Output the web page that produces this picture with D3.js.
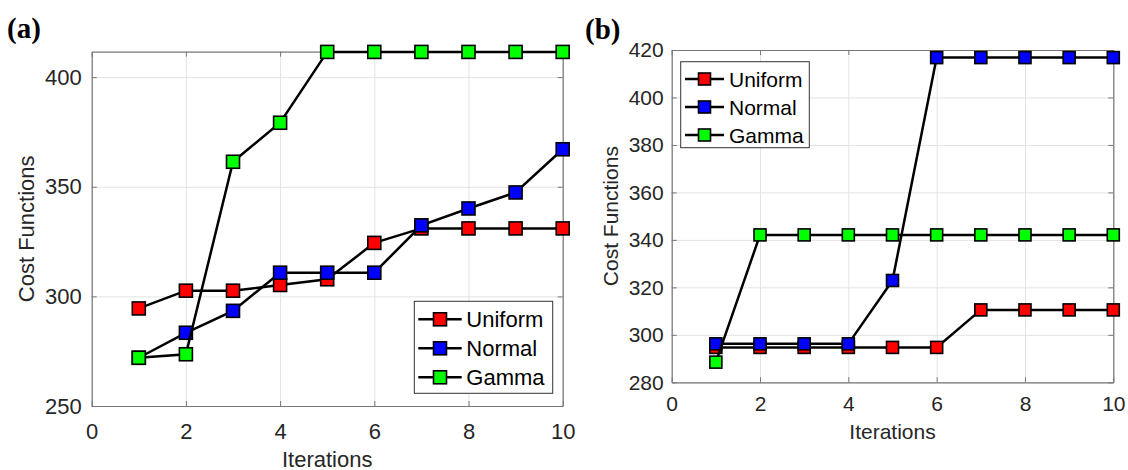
<!DOCTYPE html>
<html>
<head>
<meta charset="utf-8">
<script src="https://cdn.jsdelivr.net/npm/d3@7"></script>
<style>
  body { margin: 0; background: #fff; }
  svg { display: block; font-family: "Liberation Sans", Arial, sans-serif; }
</style>
</head>
<body>
<svg id="chart" width="1128" height="470"></svg>
<script>
const iterations = [1, 2, 3, 4, 5, 6, 7, 8, 9, 10];
const seriesNames = ["Uniform", "Normal", "Gamma"];
const seriesColors = ["#ff0000", "#0000ff", "#00ff00"];

// panel (a)
const uniformA = [294.5, 302.6, 302.6, 305.2, 307.8, 324.4, 331, 331, 331, 331];
const normalA = [272, 283.4, 293.4, 310.8, 310.8, 310.8, 332.4, 340.1, 347.4, 367.1];
const gammaA = [272, 273.6, 361.4, 379.2, 411.5, 411.5, 411.5, 411.5, 411.5, 411.5];

// panel (b)
const uniformB = [294.7, 294.7, 294.7, 294.7, 294.7, 294.7, 310.5, 310.5, 310.5, 310.5];
const normalB = [296.2, 296.2, 296.2, 296.2, 322.9, 416.8, 416.8, 416.8, 416.8, 416.8];
const gammaB = [288.5, 342.1, 342.1, 342.1, 342.1, 342.1, 342.1, 342.1, 342.1, 342.1];

const xTicks = [0, 2, 4, 6, 8, 10];
const yTicksA = [250, 300, 350, 400];
const yTicksB = [280, 300, 320, 340, 360, 380, 400, 420];

const svg = d3.select("#chart");

function drawPanel(opt) {
  const g = svg.append("g");
  const x = d3.scaleLinear().domain([0, 10]).range([opt.left, opt.right]);
  const y = d3.scaleLinear().domain(opt.yDomain).range([opt.bottom, opt.top]);
  const w = opt.right - opt.left;
  const h = opt.bottom - opt.top;

  // grid
  g.append("g")
    .attr("transform", `translate(0,${opt.bottom})`)
    .call(d3.axisBottom(x).tickValues(xTicks).tickSize(-h).tickFormat(""))
    .call((s) => s.select(".domain").remove())
    .selectAll("line").attr("stroke", "#e3e3e3");
  g.append("g")
    .attr("transform", `translate(${opt.left},0)`)
    .call(d3.axisLeft(y).tickValues(opt.yTicks).tickSize(-w).tickFormat(""))
    .call((s) => s.select(".domain").remove())
    .selectAll("line").attr("stroke", "#e3e3e3");

  // axes with inward ticks
  const bottomAxis = g.append("g")
    .attr("transform", `translate(0,${opt.bottom})`)
    .call(d3.axisBottom(x).tickValues(xTicks).tickSizeInner(-5).tickSizeOuter(0).tickPadding(opt.xPad));
  const leftAxis = g.append("g")
    .attr("transform", `translate(${opt.left},0)`)
    .call(d3.axisLeft(y).tickValues(opt.yTicks).tickSizeInner(-5).tickSizeOuter(0).tickPadding(opt.yPad));
  const topAxis = g.append("g")
    .attr("transform", `translate(0,${opt.top})`)
    .call(d3.axisTop(x).tickValues(xTicks).tickSizeInner(-5).tickSizeOuter(0).tickFormat(""));
  const rightAxis = g.append("g")
    .attr("transform", `translate(${opt.right},0)`)
    .call(d3.axisRight(y).tickValues(opt.yTicks).tickSizeInner(-5).tickSizeOuter(0).tickFormat(""));

  [bottomAxis, leftAxis, topAxis, rightAxis].forEach((a) => {
    a.selectAll(".domain").attr("stroke", "#777").attr("stroke-width", 1.2);
    a.selectAll(".tick line").attr("stroke", "#777");
    a.selectAll("text")
      .attr("fill", "#262626")
      .style("font-size", opt.fontSize + "px");
  });

  // axis labels
  g.append("text")
    .attr("x", (opt.left + opt.right) / 2)
    .attr("y", opt.xLabelY)
    .attr("text-anchor", "middle")
    .attr("fill", "#262626")
    .style("font-size", opt.fontSize + "px")
    .text("Iterations");
  g.append("text")
    .attr("transform", `translate(${opt.yLabelX},${(opt.top + opt.bottom) / 2}) rotate(-90)`)
    .attr("text-anchor", "middle")
    .attr("fill", "#262626")
    .style("font-size", opt.fontSize + "px")
    .text("Cost Functions");

  // panel tag
  g.append("text")
    .attr("x", opt.tagX)
    .attr("y", opt.tagY)
    .attr("font-family", "'Liberation Serif', 'Times New Roman', serif")
    .attr("font-weight", "bold")
    .style("font-size", "29px")
    .attr("fill", "#000")
    .text(opt.tag);

  // series
  const line = d3.line().x((d, i) => x(iterations[i])).y((d) => y(d));
  const m = opt.marker;
  opt.series.forEach((vals, k) => {
    g.append("path")
      .datum(vals)
      .attr("d", line)
      .attr("fill", "none")
      .attr("stroke", "#000")
      .attr("stroke-width", 2.5);
    g.selectAll(null)
      .data(vals)
      .enter()
      .append("rect")
      .attr("x", (d, i) => x(iterations[i]) - m / 2)
      .attr("y", (d) => y(d) - m / 2)
      .attr("width", m)
      .attr("height", m)
      .attr("fill", seriesColors[k])
      .attr("stroke", "#000")
      .attr("stroke-width", 1.6);
  });

  // legend
  const L = opt.legend;
  const lg = g.append("g").attr("transform", `translate(${L.x},${L.y})`);
  lg.append("rect")
    .attr("width", L.w)
    .attr("height", L.h)
    .attr("fill", "#fff")
    .attr("stroke", "#333")
    .attr("stroke-width", 1);
  seriesNames.forEach((name, k) => {
    const cy = L.first + k * L.step;
    lg.append("line")
      .attr("x1", L.lineX1).attr("x2", L.lineX2)
      .attr("y1", cy).attr("y2", cy)
      .attr("stroke", "#000").attr("stroke-width", 2.5);
    lg.append("rect")
      .attr("x", (L.lineX1 + L.lineX2) / 2 - m / 2)
      .attr("y", cy - m / 2)
      .attr("width", m).attr("height", m)
      .attr("fill", seriesColors[k])
      .attr("stroke", "#000").attr("stroke-width", 1.6);
    lg.append("text")
      .attr("x", L.textX)
      .attr("y", cy)
      .attr("dy", "0.36em")
      .attr("fill", "#000")
      .style("font-size", opt.fontSize + "px")
      .text(name);
  });
}

drawPanel({
  tag: "(a)", tagX: 7, tagY: 38,
  left: 91.7, right: 562.7, top: 51.7, bottom: 406,
  yDomain: [250, 411.6], yTicks: yTicksA,
  fontSize: 22, xPad: 17, yPad: 10,
  xLabelY: 466.5, yLabelX: 34,
  marker: 13,
  series: [uniformA, normalA, gammaA],
  legend: { x: 414.3, y: 301.3, w: 138.4, h: 92, first: 18, step: 29,
            lineX1: 4, lineX2: 47.4, textX: 52 }
});

drawPanel({
  tag: "(b)", tagX: 585, tagY: 39,
  left: 671.7, right: 1113.3, top: 50, bottom: 382.3,
  yDomain: [280, 420], yTicks: yTicksB,
  fontSize: 21, xPad: 14, yPad: 8,
  xLabelY: 439.3, yLabelX: 618.3,
  marker: 12,
  series: [uniformB, normalB, gammaB],
  legend: { x: 680.7, y: 61.7, w: 128.6, h: 86, first: 17.3, step: 28,
            lineX1: 4.3, lineX2: 43.3, textX: 48.3 }
});
</script>
</body>
</html>
